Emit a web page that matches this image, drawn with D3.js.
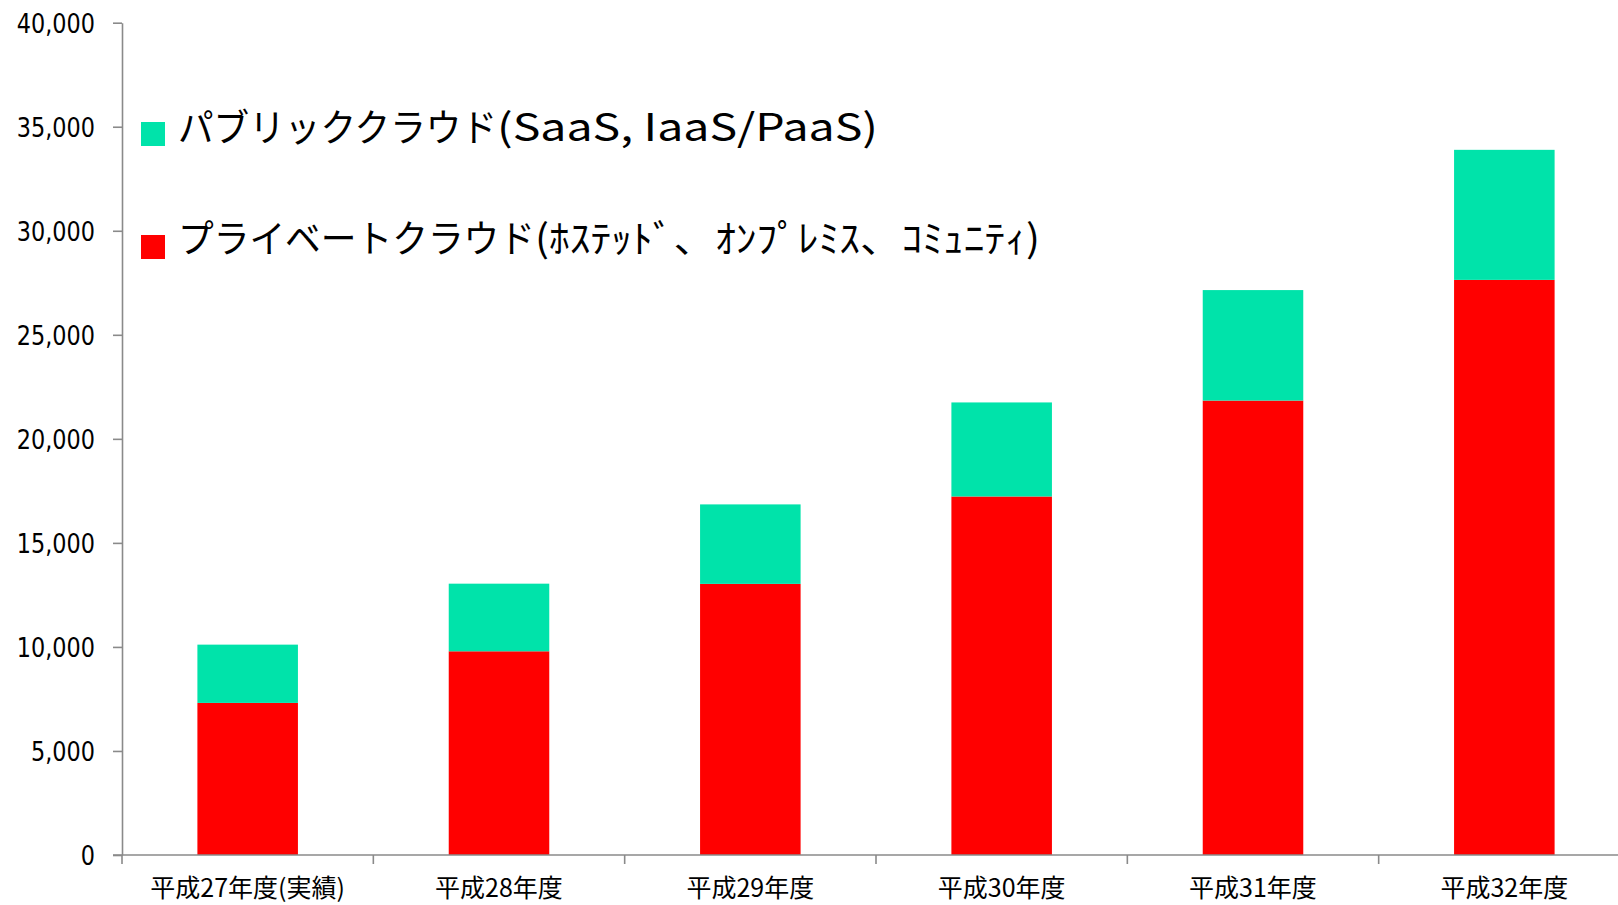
<!DOCTYPE html>
<html lang="ja">
<head>
<meta charset="utf-8">
<script src="https://cdn.jsdelivr.net/npm/d3@7"></script>
<style>
  html, body { margin: 0; padding: 0; background: #fff; overflow: hidden; }
  svg { display: block; }
</style>
</head>
<body>
<svg id="chart" width="1618" height="905"></svg>
<script>
// Cloud market size by fiscal year (stacked: private + public)
const categories = ["平成27年度(実績)", "平成28年度", "平成29年度", "平成30年度", "平成31年度", "平成32年度"];
const privateCloud = [7310, 9790, 13030, 17230, 21840, 27640];
const publicCloud  = [2800, 3250, 3820, 4520, 5310, 6250];
const yTicks = [0, 5000, 10000, 15000, 20000, 25000, 30000, 35000, 40000];

// Legend entries: main label + bracketed detail
const legendMain = ["パブリッククラウド", "プライベートクラウド"];
const legendSub  = ["(SaaS, IaaS/PaaS)", "(ﾎｽﾃｯﾄﾞ、ｵﾝﾌﾟﾚﾐｽ、ｺﾐｭﾆﾃｨ)"];
const legendKeys = ["public", "private"];

const colors = { public: "#00E3AA", private: "#FF0000" };

const svg = d3.select("#chart");
const plotLeft = 122, plotRight = 1630, plotTop = 22.7, plotBottom = 855;

const rows = categories.map((c, i) => ({ cat: c, private: privateCloud[i], public: publicCloud[i] }));
const stack = d3.stack().keys(["private", "public"])(rows);

const x = d3.scaleBand().domain(categories).range([plotLeft, plotRight])
  .paddingInner(0.6).paddingOuter(0.3);
const y = d3.scaleLinear().domain([0, 40000]).range([plotBottom, plotTop]);

// Bars
svg.append("g").selectAll("g").data(stack).join("g")
  .attr("fill", d => colors[d.key])
  .selectAll("rect").data(d => d).join("rect")
  .attr("x", d => x(d.data.cat))
  .attr("width", x.bandwidth())
  .attr("y", d => y(d[1]))
  .attr("height", d => y(d[0]) - y(d[1]));

// Y axis
const yAxis = svg.append("g")
  .attr("transform", `translate(${plotLeft},0)`)
  .call(d3.axisLeft(y).tickValues(yTicks).tickSize(9).tickSizeOuter(0)
    .tickPadding(0).tickFormat(d3.format(",")));
yAxis.select(".domain").attr("stroke", "#8a8a8a").attr("stroke-width", 1.6);
yAxis.selectAll(".tick line").attr("stroke", "#8a8a8a").attr("stroke-width", 1.6);
yAxis.selectAll(".tick text")
  .attr("x", -27 / 0.86)
  .attr("dy", "0.36em")
  .attr("transform", "scale(0.86,1)")
  .attr("fill", "#000")
  .style("font-family", "'DejaVu Sans', sans-serif")
  .style("font-size", "26px");

// X axis: baseline, category boundary ticks and labels
const xg = svg.append("g");
const step = x.step();
xg.append("line")
  .attr("x1", plotLeft - 9).attr("x2", plotRight)
  .attr("y1", plotBottom).attr("y2", plotBottom)
  .attr("stroke", "#8a8a8a").attr("stroke-width", 1.6);
const bounds = categories.map(c => x(c) - step * 0.3).concat([plotRight]);
xg.selectAll("line.tick").data(bounds).join("line")
  .attr("class", "tick")
  .attr("x1", d => d).attr("x2", d => d)
  .attr("y1", plotBottom).attr("y2", plotBottom + 9)
  .attr("stroke", "#8a8a8a").attr("stroke-width", 1.6);
xg.selectAll("text").data(categories).join("text")
  .attr("x", d => x(d) + x.bandwidth() / 2)
  .attr("y", 897)
  .attr("text-anchor", "middle")
  .style("font-family", "'Noto Sans CJK JP', sans-serif")
  .style("font-size", "25px")
  .attr("fill", "#000")
  .text(d => d);

// Legend
const legendRows = [
  { sqY: 122, base: 141, mainEnd: 497, subEnd: 878 },
  { sqY: 235, base: 252, mainEnd: 535, subEnd: 1040 }
];
const lg = svg.append("g").selectAll("g").data(legendKeys).join("g");
lg.append("rect")
  .attr("x", 141).attr("y", (d, i) => legendRows[i].sqY)
  .attr("width", 24).attr("height", 24)
  .attr("fill", d => colors[d]);
lg.append("text")
  .attr("x", 178).attr("y", (d, i) => legendRows[i].base)
  .attr("textLength", (d, i) => legendRows[i].mainEnd - 178)
  .attr("lengthAdjust", "spacingAndGlyphs")
  .style("font-family", "'Noto Sans CJK JP', sans-serif")
  .style("font-size", "38px")
  .attr("fill", "#000")
  .text((d, i) => legendMain[i]);
lg.append("text")
  .attr("x", (d, i) => legendRows[i].mainEnd).attr("y", (d, i) => legendRows[i].base)
  .attr("textLength", (d, i) => legendRows[i].subEnd - legendRows[i].mainEnd)
  .attr("lengthAdjust", "spacingAndGlyphs")
  .style("font-family", "'Noto Sans CJK JP', sans-serif")
  .style("font-size", "38px")
  .attr("fill", "#000")
  .text((d, i) => legendSub[i]);
</script>
</body>
</html>
